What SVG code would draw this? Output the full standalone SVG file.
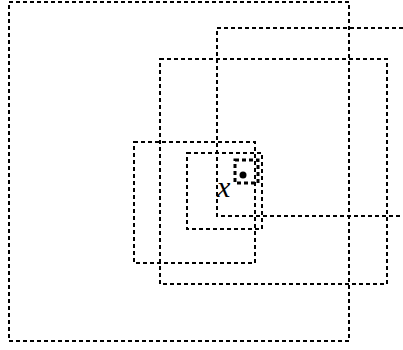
<svg xmlns="http://www.w3.org/2000/svg" width="403" height="350" viewBox="0 0 403 350">
<style>
.r{fill:none;stroke:#000;stroke-width:2;stroke-dasharray:4,3}
.s{fill:none;stroke:#000;stroke-width:3;stroke-dasharray:4,3}
.t{font-family:"Liberation Serif",serif;font-style:italic;font-size:30px;fill:#000}
</style>
<rect width="403" height="350" fill="#fff"/>
<g id="big"><rect class="r" x="9" y="2" width="340" height="339"/></g>
<g id="topright"><path class="r" d="M403,28 H217 V216 H403"/></g>
<g id="mid"><rect class="r" x="160" y="59" width="227" height="225"/></g>
<g id="left"><rect class="r" x="134" y="142" width="121" height="121"/></g>
<g id="inner"><rect class="r" x="187" y="153" width="75" height="76"/></g>
<g id="small"><rect class="s" x="235" y="160" width="23" height="23"/></g>
<g id="point"><circle cx="243" cy="175" r="3.5" fill="#000"/></g>
<text class="t" x="217" y="197">x</text>
</svg>
